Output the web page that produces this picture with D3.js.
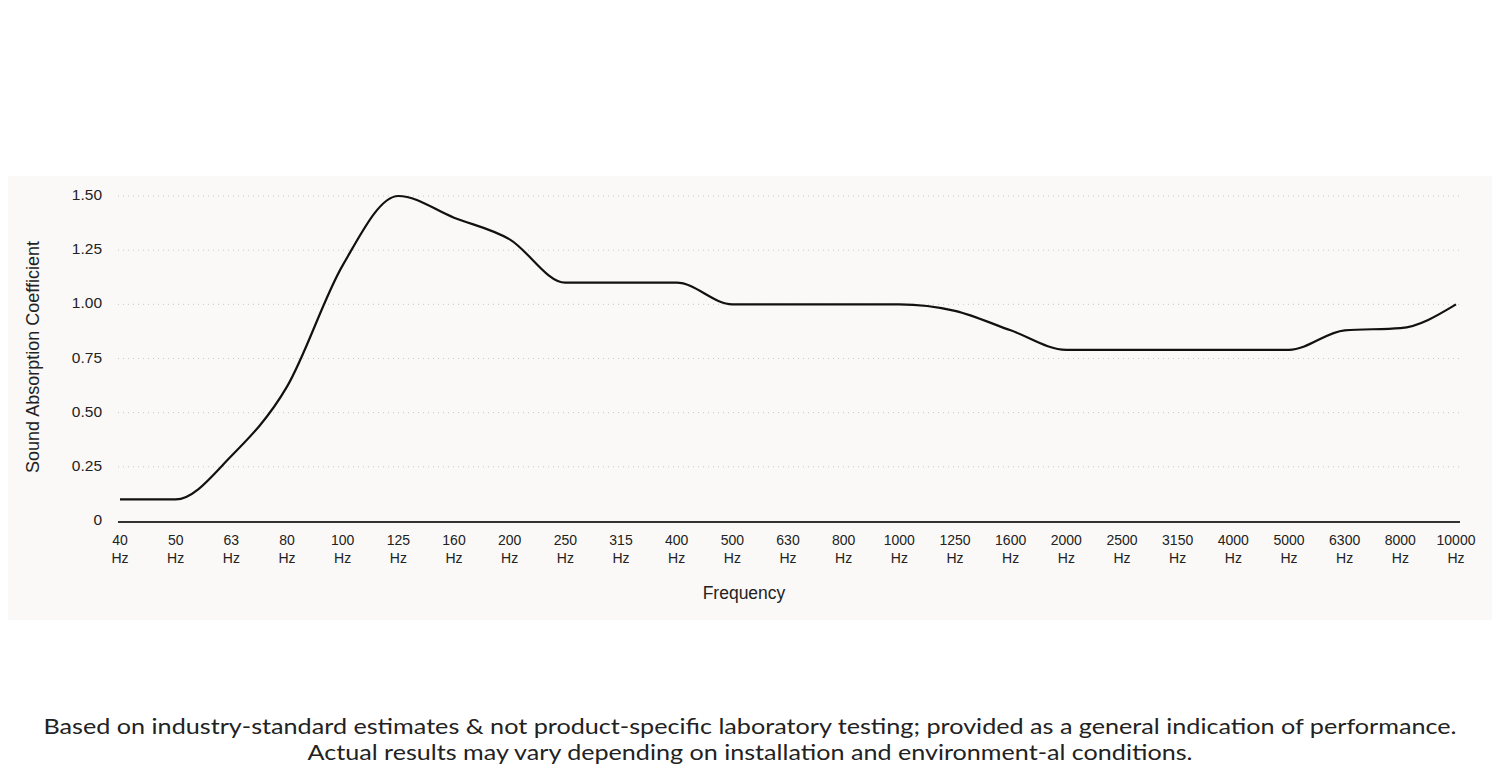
<!DOCTYPE html>
<html lang="en">
<head>
<meta charset="utf-8">
<title>Sound Absorption</title>
<style>
  body { margin: 0; background: #fff; }
  svg { display: block; }
</style>
</head>
<body>
<svg width="1500" height="778"></svg>
<script src="https://cdn.jsdelivr.net/npm/d3@7"></script>
<script>
const freqs = ["40","50","63","80","100","125","160","200","250","315","400","500","630","800","1000","1250","1600","2000","2500","3150","4000","5000","6300","8000","10000"]
const coeffs = [0.10,0.10,0.30,0.62,1.18,1.50,1.40,1.30,1.10,1.10,1.10,1.00,1.00,1.00,1.00,0.97,0.88,0.79,0.79,0.79,0.79,0.79,0.88,0.89,1.00]
const yTicks = [0, 0.25, 0.5, 0.75, 1, 1.25, 1.5]
const footer = [
  "Based on industry-standard estimates & not product-specific laboratory testing; provided as a general indication of performance.",
  "Actual results may vary depending on installation and environment-al conditions."
]
const footerWidths = [1413, 885]

const svg = d3.select("svg")
const font = "'Liberation Sans', Arial, sans-serif"

// panel background
svg.append("rect")
  .attr("x", 8).attr("y", 176).attr("width", 1484).attr("height", 444)
  .attr("fill", "#faf9f7")

const x = d3.scalePoint().domain(freqs).range([120, 1456]),
      y = d3.scaleLinear().domain([0, 1.5]).range([521, 196])

// grid
svg.append("g").selectAll("line")
  .data(yTicks.filter(d => d > 0))
  .enter().append("line")
    .attr("x1", 118).attr("x2", 1460)
    .attr("y1", d => y(d)).attr("y2", d => y(d))
    .attr("stroke", "#c8c8c8")
    .attr("stroke-width", 1)
    .attr("stroke-dasharray", "1,4")

// y tick labels
svg.append("g").selectAll("text")
  .data(yTicks)
  .enter().append("text")
    .attr("x", 102)
    .attr("y", d => y(d))
    .attr("text-anchor", "end")
    .attr("dominant-baseline", "middle")
    .style("font-family", font)
    .style("font-size", "15.5px")
    .style("fill", "#222")
    .text(d => d === 0 ? "0" : d.toFixed(2))

// x axis line
svg.append("line")
  .attr("x1", 118).attr("x2", 1460)
  .attr("y1", y(0) + 1).attr("y2", y(0) + 1)
  .attr("stroke", "#333").attr("stroke-width", 2)

// x tick labels
const xl = svg.append("g").selectAll("text")
  .data(freqs)
  .enter().append("text")
    .attr("text-anchor", "middle")
    .style("font-family", font)
    .style("font-size", "14px")
    .style("fill", "#222")
xl.append("tspan").attr("x", d => x(d)).attr("y", 545).text(d => d)
xl.append("tspan").attr("x", d => x(d)).attr("y", 563).text("Hz")

// axis titles
svg.append("text")
  .attr("x", 744).attr("y", 599)
  .attr("text-anchor", "middle")
  .style("font-family", font).style("font-size", "17.5px").style("fill", "#222")
  .text("Frequency")

svg.append("text")
  .attr("transform", "translate(39,357) rotate(-90)")
  .attr("text-anchor", "middle")
  .style("font-family", font).style("font-size", "18px").style("fill", "#222")
  .text("Sound Absorption Coefficient")

// curve
const line = d3.line()
  .x((d, i) => x(freqs[i]))
  .y(d => y(d))
  .curve(d3.curveMonotoneX)

svg.append("path")
  .datum(coeffs)
  .attr("d", line)
  .attr("fill", "none")
  .attr("stroke", "#111")
  .attr("stroke-width", 2.2)

// footer
svg.append("g").selectAll("text")
  .data(footer)
  .enter().append("text")
    .attr("x", 750)
    .attr("y", (d, i) => 734 + i * 26)
    .attr("text-anchor", "middle")
    .attr("textLength", (d, i) => footerWidths[i])
    .attr("lengthAdjust", "spacingAndGlyphs")
    .style("font-family", "Lato, 'Open Sans', sans-serif")
    .style("font-size", "21px")
    .style("fill", "#222")
    .text(d => d)
</script>
</body>
</html>
